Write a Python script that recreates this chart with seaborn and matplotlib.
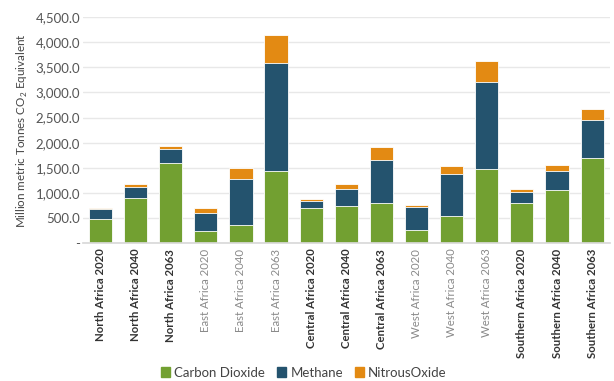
import numpy as np
import pandas as pd
import matplotlib
matplotlib.use("Agg")
import matplotlib.pyplot as plt
from matplotlib.patches import Patch
from matplotlib.ticker import FuncFormatter
import seaborn as sns

# data
regions = ["North Africa", "East Africa", "Central Africa", "West Africa", "Southern Africa"]
years = ["2020", "2040", "2063"]
categories = [f"{r} {y}" for r in regions for y in years]
co2 = [484, 902, 1599, 245, 364, 1440, 697, 743, 796, 265, 544, 1466, 802, 1061, 1698]
methane = [185, 219, 265, 364, 903, 2144, 151, 344, 863, 444, 836, 1752, 213, 365, 751]
n2o = [28, 46, 60, 94, 219, 570, 34, 94, 258, 53, 159, 406, 66, 120, 225]
bold_regions = ["North Africa", "Central Africa", "Southern Africa"]

df = pd.DataFrame({"label": categories, "co2": co2, "ch4": methane, "n2o": n2o})
df["lvl2"] = df["co2"] + df["ch4"]
df["lvl3"] = df["lvl2"] + df["n2o"]

green = "#72a031"
blue = "#24536e"
orange = "#e38a13"

sns.set_theme(style="white")
plt.rcParams["font.family"] = ["Lato", "DejaVu Sans"]
plt.rcParams["mathtext.fontset"] = "custom"
plt.rcParams["mathtext.rm"] = "Lato"

fig = plt.figure(figsize=(6.14, 3.81), dpi=100)
ax = fig.add_axes([0.135, 0.362, 0.858, 0.593])

kw = dict(data=df, x="label", width=0.66, edgecolor="white", linewidth=0.6, ax=ax)
sns.barplot(y="lvl3", color=orange, saturation=1, **kw)
sns.barplot(y="lvl2", color=blue, saturation=1, **kw)
sns.barplot(y="co2", color=green, saturation=1, **kw)

ax.set_ylim(0, 4500)
ax.set_yticks(np.arange(0, 4501, 500))
ax.yaxis.set_major_formatter(FuncFormatter(lambda v, p: "-" if v == 0 else f"{v:,.1f}"))
ax.grid(axis="y", color="#e8e8e8", linewidth=1)
ax.set_axisbelow(True)
for s in ["top", "right", "left"]:
    ax.spines[s].set_visible(False)
ax.spines["bottom"].set_color("#d9d9d9")
ax.tick_params(axis="y", labelsize=9.5, colors="#555555", length=0, pad=2)
ax.tick_params(axis="x", length=0, pad=4)
ax.set_xlabel("")
ax.set_ylabel("Million metric Tonnes CO$_2$ Equivalent", fontsize=8.4, color="#444444", labelpad=4)

ax.set_xticks(range(len(categories)))
ax.set_xticklabels(categories, rotation=90, fontsize=8.2)
for t in ax.get_xticklabels():
    if any(t.get_text().startswith(r) for r in bold_regions):
        t.set_fontweight("bold")
        t.set_color("#333333")
    else:
        t.set_color("#8a8a8a")

handles = [Patch(color=green, label="Carbon Dioxide"),
           Patch(color=blue, label="Methane"),
           Patch(color=orange, label="NitrousOxide")]
fig.legend(handles=handles, loc="lower center", bbox_to_anchor=(0.495, -0.025), ncol=3,
           frameon=False, fontsize=9.5, handlelength=0.7, handleheight=0.7,
           handletextpad=0.3, columnspacing=0.9, labelcolor="#444444")

fig.savefig("out.png", dpi=100)
